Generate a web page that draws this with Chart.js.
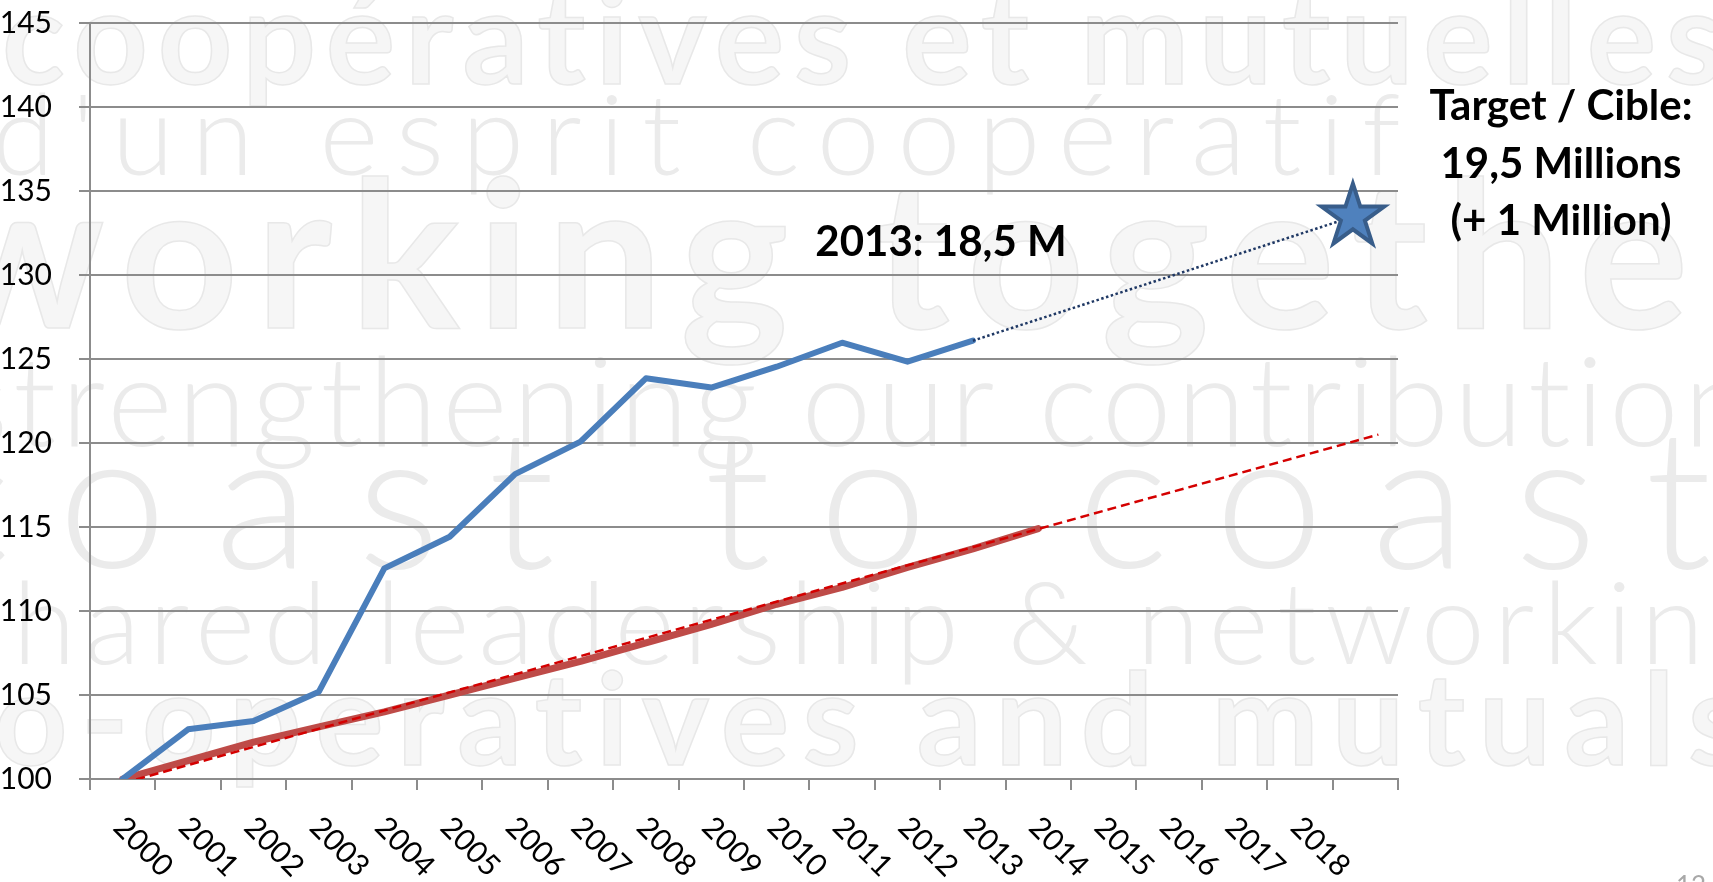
<!DOCTYPE html>
<html>
<head>
<meta charset="utf-8">
<script src="https://cdn.jsdelivr.net/npm/chart.js@4.4.0/dist/chart.umd.min.js"></script>
<style>
html,body{margin:0;padding:0;background:#fff;overflow:hidden}
#wrap{width:1713px;height:882px;position:relative}
canvas{display:block}
</style>
</head>
<body>
<div id="wrap"><canvas id="c" width="1713" height="882"></canvas></div>
<script>
// ---------- DATA ----------
const years = [2000,2001,2002,2003,2004,2005,2006,2007,2008,2009,2010,2011,2012,2013,2014,2015,2016,2017,2018,2019];
const yearLabels = ['2000','2001','2002','2003','2004','2005','2006','2007','2008','2009','2010','2011','2012','2013','2014','2015','2016','2017','2018',''];
// blue series (index, 2000 = 100), 2000-2013
const membersIndex = [100, 102.96, 103.45, 105.2, 112.54, 114.42, 118.15, 120.08, 123.85, 123.3, 124.54, 125.97, 124.84, 126.09];
// red series (index, 2000 = 100), 2000-2014
const benchmarkIndex = [100, 101.1, 102.2, 103.1, 104.0, 105.0, 106.0, 107.0, 108.1, 109.2, 110.4, 111.4, 112.6, 113.7, 114.9];
// red dashed linear trend (start / forecast end)
const trendYears = [2000, 2019.2];
const trendValues = [99.75, 120.5];
// dotted path to the target star
const targetYears = [2013, 2018.81];
const targetValues = [126.09, 133.47];
const yMin = 100, yMax = 145, yStep = 5;
const note2013 = '2013: 18,5 M';
const targetNote = ['Target / Cible:', '19,5 Millions', '(+ 1 Million)'];
const watermark = [
  {t:'coopératives et mutuelles', size:130, x0:2, x1:1735, base:84, bold:true},
  {t:"d'un esprit coopératif", size:113, x0:-8, x1:1420, base:175, bold:false},
  {t:'working together', size:205, x0:-60, x1:1800, base:328, bold:true},
  {t:'strengthening our contribution', size:125, x0:-45, x1:1760, base:446, bold:false},
  {t:'coast to coast', size:140, x0:-80, x1:1760, base:568, bold:false},
  {t:'shared leadership & networking', size:115, x0:-45, x1:1780, base:664, bold:false},
  {t:'co-operatives and mutuals', size:128, x0:-80, x1:1760, base:765, bold:true}
];

// ---------- helpers ----------
const pts = (xs, ys) => ys.map((v, i) => ({x: xs[i], y: v}));
const boundaries = years.map(y => y - 0.5).concat([years[years.length - 1] + 0.5]);
const FONT = 'Lato, "Liberation Sans", sans-serif';
const GRID = '#8c8c8c';

function drawStar(ctx, cx, cy, R, r) {
  ctx.beginPath();
  for (let k = 0; k < 10; k++) {
    const a = -Math.PI / 2 + k * Math.PI / 5;
    const rad = (k % 2) ? r : R;
    const px = cx + rad * Math.cos(a), py = cy + rad * Math.sin(a);
    if (k === 0) ctx.moveTo(px, py); else ctx.lineTo(px, py);
  }
  ctx.closePath();
}

const bgPlugin = {
  id: 'bg',
  beforeDraw(chart) {
    const ctx = chart.ctx;
    const hasLS = ('letterSpacing' in ctx);
    ctx.save();
    ctx.fillStyle = '#fff';
    ctx.fillRect(0, 0, chart.width, chart.height);
    // faint background slogan texture
    watermark.forEach(w => {
      const weight = w.bold ? 'bold ' : '300 ';
      let size = w.size;
      ctx.font = weight + size + 'px ' + FONT;
      if (hasLS) ctx.letterSpacing = '0px';
      const m = ctx.measureText(w.t).width;
      const n = [...w.t].length;
      const target = w.x1 - w.x0;
      let sp = (target - m) / n;
      const cap = 0.25;
      if (sp > cap * size) {
        const k = target / (m + n * cap * size);
        size = size * k;
        sp = cap * size;
      }
      ctx.font = weight + size.toFixed(1) + 'px ' + FONT;
      if (hasLS) ctx.letterSpacing = sp.toFixed(2) + 'px';
      ctx.textBaseline = 'alphabetic';
      ctx.textAlign = 'left';
      if (w.bold) {
        ctx.fillStyle = '#f6f6f6';
        ctx.fillText(w.t, w.x0, w.base);
        ctx.strokeStyle = '#e8e8e8';
        ctx.lineWidth = 1.5;
        ctx.strokeText(w.t, w.x0, w.base);
      } else {
        ctx.fillStyle = '#ebebeb';
        ctx.fillText(w.t, w.x0, w.base);
      }
    });
    if (hasLS) ctx.letterSpacing = '0px';
    ctx.fillStyle = '#a8a8a8';
    ctx.font = '26px ' + FONT;
    ctx.textBaseline = 'top';
    ctx.fillText('12', 1676, 874);
    ctx.restore();
  }
};

const decoPlugin = {
  id: 'deco',
  afterDatasetsDraw(chart) {
    const ctx = chart.ctx;
    const meta = chart.getDatasetMeta(3);
    const el = meta.data[meta.data.length - 1];
    ctx.save();
    drawStar(ctx, el.x, el.y, 33, 33 * 0.382);
    ctx.fillStyle = '#4F81BD';
    ctx.fill();
    ctx.lineJoin = 'miter';
    ctx.miterLimit = 10;
    ctx.lineWidth = 4;
    ctx.strokeStyle = '#385D8A';
    ctx.stroke();
    ctx.restore();
  },
  afterDraw(chart) {
    const ctx = chart.ctx;
    const xs = chart.scales.x;
    const area = chart.chartArea;
    ctx.save();
    // rotated category labels (clockwise, starting under each category)
    ctx.fillStyle = '#000';
    ctx.font = '30px ' + FONT;
    ctx.textAlign = 'left';
    ctx.textBaseline = 'alphabetic';
    years.forEach((y, i) => {
      if (!yearLabels[i]) return;
      const x = xs.getPixelForValue(y);
      ctx.save();
      ctx.translate(x - 11, area.bottom + 50);
      ctx.rotate(Math.PI / 4);
      ctx.fillText(yearLabels[i], 0, 0);
      ctx.restore();
    });
    // annotations
    ctx.font = 'bold 42px ' + FONT;
    ctx.textAlign = 'center';
    ctx.fillText(note2013, 941, 256);
    const bases = [120, 178, 235];
    targetNote.forEach((t, i) => ctx.fillText(t, 1561, bases[i]));
    ctx.restore();
  }
};

function build() {
  new Chart(document.getElementById('c'), {
    type: 'line',
    data: {
      datasets: [
        {
          data: pts(years, benchmarkIndex),
          borderColor: '#BE4B48', borderWidth: 7,
          pointRadius: 0, tension: 0, order: 4,
          borderJoinStyle: 'round', borderCapStyle: 'round'
        },
        {
          data: pts(trendYears, trendValues),
          borderColor: '#D40000', borderWidth: 2.5, borderDash: [9, 5],
          pointRadius: 0, tension: 0, order: 3
        },
        {
          data: pts(years, membersIndex),
          borderColor: '#4A7EBB', borderWidth: 6,
          pointRadius: 0, tension: 0, order: 2,
          borderJoinStyle: 'round', borderCapStyle: 'round'
        },
        {
          data: pts(targetYears, targetValues),
          borderColor: '#1F3864', borderWidth: 2.5, borderDash: [2.5, 2.5],
          pointRadius: 0, tension: 0, order: 1
        }
      ]
    },
    options: {
      responsive: false,
      devicePixelRatio: 1,
      animation: false,
      events: [],
      layout: { padding: { top: 23, right: 315, bottom: 0, left: 0 } },
      plugins: { legend: { display: false }, tooltip: { enabled: false } },
      scales: {
        x: {
          type: 'linear',
          min: boundaries[0], max: boundaries[boundaries.length - 1],
          afterBuildTicks: s => { s.ticks = boundaries.map(v => ({ value: v })); },
          afterFit: s => { s.height = 103; s.paddingLeft = 0; s.paddingRight = 0; },
          ticks: { display: false },
          grid: { drawOnChartArea: false, drawTicks: true, tickLength: 11, color: GRID, lineWidth: 2 },
          border: { color: GRID, width: 2 }
        },
        y: {
          min: yMin, max: yMax,
          afterFit: s => { s.width = 90; s.paddingTop = 0; s.paddingBottom = 0; },
          ticks: { stepSize: yStep, color: '#000', font: { family: FONT, size: 30 }, padding: 27 },
          grid: { color: GRID, lineWidth: 2, tickLength: 11 },
          border: { color: GRID, width: 2 }
        }
      }
    },
    plugins: [bgPlugin, decoPlugin]
  });
}

Promise.all([
  document.fonts.load('30px Lato'),
  document.fonts.load('bold 42px Lato'),
  document.fonts.load('300 60px Lato')
]).then(build, build);
</script>
</body>
</html>
